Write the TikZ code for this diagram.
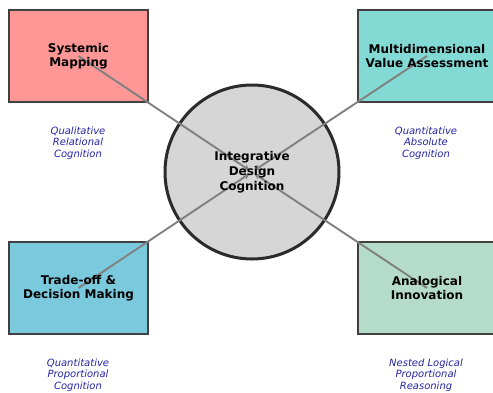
\documentclass[tikz,border=0pt]{standalone}
\usepackage{fontspec}
\setmainfont{DejaVu Sans}
\usetikzlibrary{arrows.meta}
\definecolor{mapfill}{RGB}{255,151,151}
\definecolor{valuefill}{RGB}{131,218,212}
\definecolor{tradefill}{RGB}{123,201,221}
\definecolor{analogfill}{RGB}{181,220,202}
\definecolor{corefill}{RGB}{214,214,214}
\definecolor{boxedge}{RGB}{64,64,64}
\definecolor{coreedge}{RGB}{43,43,43}
\definecolor{linkgray}{RGB}{128,128,128}
\definecolor{modecolor}{RGB}{35,35,165}
\tikzset{
  stagebox/.style={draw=boxedge, line width=2pt, minimum width=139pt, minimum height=92pt, inner sep=0pt},
  stagetext/.style={align=center, font=\fontsize{12}{14}\selectfont\bfseries, text=black, inner sep=0pt},
  coretext/.style={align=center, font=\fontsize{12}{15}\selectfont\bfseries, text=black, inner sep=0pt},
  modetext/.style={align=center, font=\fontsize{10}{11.5}\selectfont\itshape, text=modecolor, inner sep=0pt},
  link/.style={draw=linkgray, line width=1.9pt, -{Stealth[length=6pt,width=6pt]}, shorten >=3pt}
}
\begin{document}
\begin{tikzpicture}[x=1pt,y=-1pt]
\useasboundingbox (0,0) rectangle (493,392);
\clip (0,0) rectangle (493,392);
% outer cognition stages
\node[stagebox, fill=mapfill] (map) at (78.5,56) {};
\node[stagebox, fill=valuefill] (value) at (427,56) {};
\node[stagebox, fill=tradefill] (trade) at (78.5,288) {};
\node[stagebox, fill=analogfill] (analog) at (427,288) {};
% central hub
\node[circle, draw=coreedge, line width=3pt, fill=corefill, minimum size=174pt, inner sep=0pt] (core) at (252,172) {};
% connectors toward the hub
\draw[link] (map.center) -- (core.center);
\draw[link] (value.center) -- (core.center);
\draw[link] (trade.center) -- (core.center);
\draw[link] (analog.center) -- (core.center);
% labels
\node[stagetext] (maptxt) at (map) {Systemic\\Mapping};
\node[stagetext] (valuetxt) at (value) {Multidimensional\\Value Assessment};
\node[stagetext] (tradetxt) at (trade) {Trade-off \&\\Decision Making};
\node[stagetext] (analogtxt) at (analog) {Analogical\\Innovation};
\node[coretext] (coretxt) at (core) {Integrative\\Design\\Cognition};
% cognition modes
\node[modetext] (mapmode) at (78,143) {Qualitative\\Relational\\Cognition};
\node[modetext] (valuemode) at (426,143) {Quantitative\\Absolute\\Cognition};
\node[modetext] (trademode) at (78,375) {Quantitative\\Proportional\\Cognition};
\node[modetext] (analogmode) at (426,375) {Nested Logical\\Proportional\\Reasoning};
\end{tikzpicture}
\end{document}
